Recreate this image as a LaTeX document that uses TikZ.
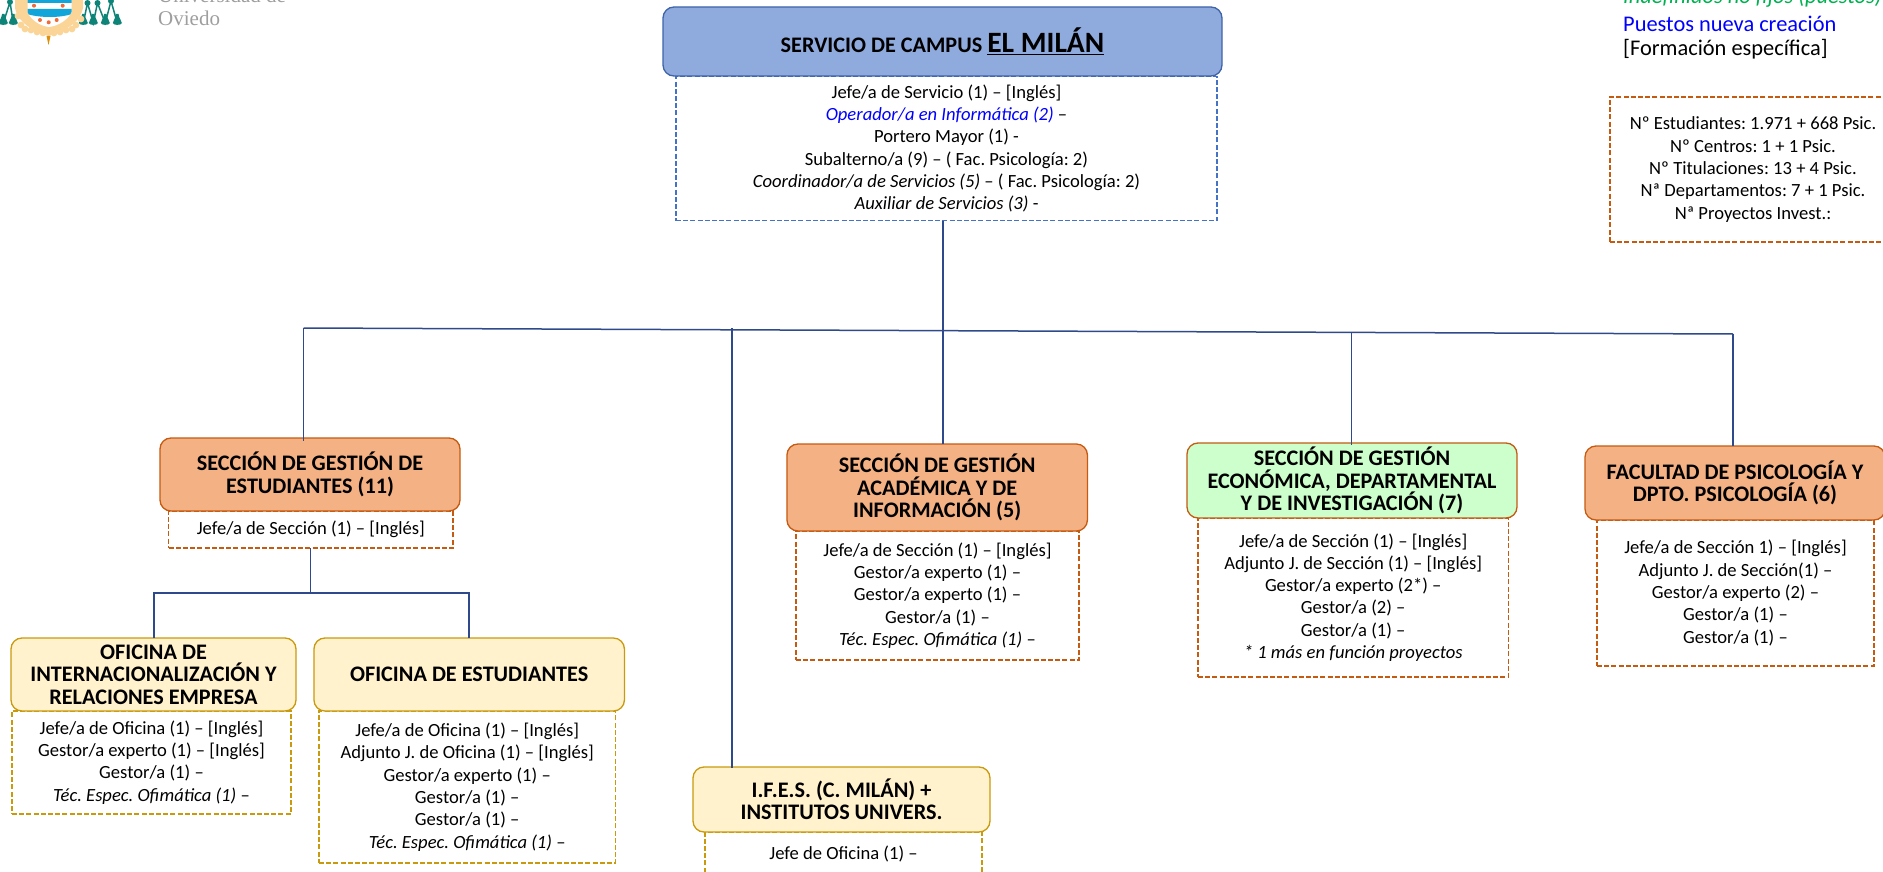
\documentclass[tikz,border=0pt]{standalone}
\usepackage{fontspec}
\setmainfont{Carlito}
\newfontfamily\logofont{Liberation Serif}
\definecolor{linkc}{HTML}{2F4A8A}
\definecolor{blueF}{HTML}{8FAADC}
\definecolor{blueL}{HTML}{3F64A8}
\definecolor{blueD}{HTML}{4472C4}
\definecolor{orF}{HTML}{F4B183}
\definecolor{orL}{HTML}{C55A11}
\definecolor{yeF}{HTML}{FFF2CC}
\definecolor{yeL}{HTML}{C99A0E}
\definecolor{grF}{HTML}{CCFFCC}
\definecolor{teal1}{HTML}{0E8478}
\definecolor{peach}{HTML}{FBD598}
\definecolor{shieldB}{HTML}{12A5DA}
\definecolor{dotR}{HTML}{EE6B3C}
\tikzset{
  x=1pt,y=-1pt,
  hdr/.style={rounded corners=11pt,line width=1.3pt,inner sep=0pt,outer sep=0pt,align=center,
    font=\fontsize{22.2}{22.3}\selectfont\bfseries},
  hdrBlue/.style={hdr,draw=blueL,fill=blueF},
  hdrOr/.style={hdr,draw=orL,fill=orF},
  hdrYe/.style={hdr,draw=yeL,fill=yeF},
  hdrGr/.style={hdr,draw=orL,fill=grF},
  body/.style={dash pattern=on 5pt off 2.2pt,line width=1.4pt,inner sep=0pt,outer sep=0pt,align=center,
    font=\fontsize{18.6}{22.3}\selectfont},
  bodyBlue/.style={body,draw=blueD},
  bodyOr/.style={body,draw=orL},
  bodyYe/.style={body,draw=yeL},
  link/.style={draw=linkc,line width=1.5pt},
  legendtxt/.style={anchor=west,inner sep=0pt,font=\fontsize{22.4}{26}\selectfont},
  logotxt/.style={anchor=base west,inner sep=0pt,text=black!38,font=\fontsize{21}{23}\logofont},
  tasselline/.style={draw=teal1,line width=1.5pt},
  tassel/.style={fill=teal1},
}
\newcommand{\tasselAt}[2]{%
  \fill[tassel] (#1-1.2,#2-9) -- (#1+1.2,#2-9) .. controls (#1+2,#2-4) and (#1+4.5,#2-2) .. (#1+4.5,#2)
    .. controls (#1+4.5,#2+2.5) and (#1-4.5,#2+2.5) .. (#1-4.5,#2)
    .. controls (#1-4.5,#2-2) and (#1-2,#2-4) .. (#1-1.2,#2-9) -- cycle;}
\begin{document}
\frenchspacing
\begin{tikzpicture}
\useasboundingbox (0,0) rectangle (1883,872);
\clip (0,0) rectangle (1883,872);

% logo
\begin{scope}
  \draw[tasselline] (3.3,23) -- (10,2) -- (13.3,23);
  \draw[tasselline] (83.3,23) -- (87.5,3) -- (93.3,23) -- (97.5,3) -- (105.3,23) -- (111,1) -- (117.3,23);
  \fill[tassel] (10,2) circle (3);
  \fill[tassel] (87.5,3) circle (3);
  \fill[tassel] (97.5,3) circle (3);
  \fill[tassel] (111,1) circle (3);
  \tasselAt{3.3}{23}\tasselAt{13.3}{23}\tasselAt{83.3}{23}\tasselAt{93.3}{23}\tasselAt{105.3}{23}\tasselAt{117.3}{23}
  \fill[peach] (15,-2) -- (83,-2) -- (83,8) .. controls (80,24) and (62,32) .. (48.5,36)
     .. controls (36,32) and (18,24) .. (15,8) -- cycle;
  \foreach \px/\py in {18/16,21/25,25/29,31/30,37/32,43/33,54/33,60/32,66/30,72/29,76/25,81/19}{\fill[peach] (\px,\py) circle (3.4);}
  \fill[yeL!60!orange] (46.5,36) -- (50.5,36) -- (48.5,45) -- cycle;
  \begin{scope}
    \clip (27.5,-2) -- (71.5,-2) -- (71.5,12) .. controls (68,20) and (58,26) .. (49,27) .. controls (40,26) and (31,20) .. (27.5,12) -- cycle;
    \fill[white] (27,-2) rectangle (72,30);
    \fill[shieldB] (27,-2) rectangle (72,2.6);
    \fill[shieldB] (27,9) -- (72,9) -- (72,14) .. controls (60,18) and (40,18) .. (27,14) -- cycle;
  \end{scope}
  \foreach \px/\py in {34/5.7,62.7/5.7,40/20,48.7/22.3,56.7/20}{\fill[dotR] (\px,\py) circle (2);}
\end{scope}
\node[logotxt] (logoA) at (158,3) {Universidad de};
\node[logotxt] (logoB) at (158,26) {Oviedo};

% legend
\node[legendtxt,text={rgb,255:red,0;green,176;blue,80}] (legA) at (1623,-3) {\itshape Indefinidos no fijos (puestos)};
\node[legendtxt,text={rgb,255:red,0;green,0;blue,255}] (legB) at (1623,23.5) {Puestos nueva creación};
\node[legendtxt] (legC) at (1623,49) {[Formación específica]};

% info box
\node[bodyOr,minimum width=286pt,minimum height=145pt] (info) at (1753,169.5) {Nº Estudiantes: 1.971 + 668 Psic.\\Nº Centros: 1 + 1 Psic.\\Nº Titulaciones: 13 + 4 Psic.\\Nª Departamentos: 7 + 1 Psic.\\Nª Proyectos Invest.:};

% bodies
\node[bodyBlue,minimum width=541pt,minimum height=144pt] (topB) at (946.5,148.5) {Jefe/a de Servicio (1) – [Inglés]\\\textcolor{blue}{\itshape Operador/a en Informática (2)} –\\Portero Mayor (1) -\\Subalterno/a (9) – ( Fac. Psicología: 2)\\{\itshape Coordinador/a de Servicios (5)} – ( Fac. Psicología: 2)\\{\itshape Auxiliar de Servicios (3)} -};
\node[bodyOr,minimum width=284.5pt,minimum height=37pt] (estB) at (310.8,529.5) {Jefe/a de Sección (1) – [Inglés]};
\node[bodyYe,minimum width=279pt,minimum height=103pt] (intB) at (151.5,762.5) {Jefe/a de Oficina (1) – [Inglés]\\Gestor/a experto (1) – [Inglés]\\Gestor/a (1) –\\{\itshape Téc. Espec. Ofimática (1)} –};
\node[bodyYe,minimum width=296.5pt,minimum height=152pt] (ofeB) at (467.2,787) {Jefe/a de Oficina (1) – [Inglés]\\Adjunto J. de Oficina (1) – [Inglés]\\Gestor/a experto (1) –\\Gestor/a (1) –\\Gestor/a (1) –\\{\itshape Téc. Espec. Ofimática (1)} –};
\node[bodyOr,minimum width=283pt,minimum height=129pt] (acaB) at (937.5,595.5) {Jefe/a de Sección (1) – [Inglés]\\Gestor/a experto (1) –\\Gestor/a experto (1) –\\Gestor/a (1) –\\{\itshape Téc. Espec. Ofimática (1)} –};
\node[bodyOr,minimum width=310.5pt,minimum height=159pt] (ecoB) at (1353.2,597.5) {Jefe/a de Sección (1) – [Inglés]\\Adjunto J. de Sección (1) – [Inglés]\\Gestor/a experto (2*) –\\Gestor/a (2) –\\Gestor/a (1) –\\{\itshape * 1 más en función proyectos}};
\node[bodyOr,minimum width=277pt,minimum height=146pt] (facB) at (1735.5,593) {Jefe/a de Sección 1) – [Inglés]\\Adjunto J. de Sección(1) –\\Gestor/a experto (2) –\\Gestor/a (1) –\\Gestor/a (1) –};
\node[bodyYe,minimum width=277pt,minimum height=44pt] (ifeB) at (843.5,854) {Jefe de Oficina (1) –};

% headers
\node[hdrBlue,minimum width=559pt,minimum height=69pt] (topH) at (942.5,41.5) {\fontsize{22.2}{22.3}\selectfont SERVICIO DE CAMPUS \fontsize{29.5}{30}\selectfont\underline{EL MILÁN}};
\node[hdrOr,minimum width=300pt,minimum height=73pt] (estH) at (310,474.5) {SECCIÓN DE GESTIÓN DE\\ESTUDIANTES (11)};
\node[hdrYe,minimum width=285pt,minimum height=73pt] (intH) at (153.5,674.5) {OFICINA DE\\INTERNACIONALIZACIÓN Y\\RELACIONES EMPRESA};
\node[hdrYe,minimum width=310.5pt,minimum height=73pt] (ofeH) at (469.2,674.5) {OFICINA DE ESTUDIANTES};
\node[hdrOr,minimum width=300.5pt,minimum height=87pt] (acaH) at (937.2,487.5) {SECCIÓN DE GESTIÓN\\ACADÉMICA Y DE\\INFORMACIÓN (5)};
\node[hdrGr,minimum width=330pt,minimum height=75pt] (ecoH) at (1352,480.5) {SECCIÓN DE GESTIÓN\\ECONÓMICA, DEPARTAMENTAL\\Y DE INVESTIGACIÓN (7)};
\node[hdrOr,minimum width=300pt,minimum height=74pt] (facH) at (1735,483) {FACULTAD DE PSICOLOGÍA Y\\DPTO. PSICOLOGÍA (6)};
\node[hdrYe,minimum width=297pt,minimum height=65pt] (ifeH) at (841.5,799.5) {I.F.E.S. (C. MILÁN) +\\INSTITUTOS UNIVERS.};

% connectors
\coordinate (busL) at (303.7,328);
\coordinate (busI) at (731.8,330);
\coordinate (busT) at (943,331);
\coordinate (busE) at (1351.7,332);
\coordinate (busR) at (1733,334);
\coordinate (subM) at (310.6,593);
\coordinate (subL) at (154,593);
\coordinate (subR) at (469,593);
\draw[link] (topB.south -| busT) -- (busT);
\draw[link] (busL) -- (busR);
\draw[link,shorten >=-3pt] (busL) -- (busL |- estH.north);
\draw[link,shorten >=-1pt] (731.8,328) -- (busI |- ifeH.north);
\draw[link] (busT) -- (busT |- acaH.north);
\draw[link,shorten >=-2pt] (busE) -- (busE |- ecoH.north);
\draw[link] (busR) -- (busR |- facH.north);
\draw[link] (estB.south -| subM) -- (subM);
\draw[link] (subL |- intH.north) -- (subL) -- (subR) -- (subR |- ofeH.north);
\end{tikzpicture}
\end{document}
